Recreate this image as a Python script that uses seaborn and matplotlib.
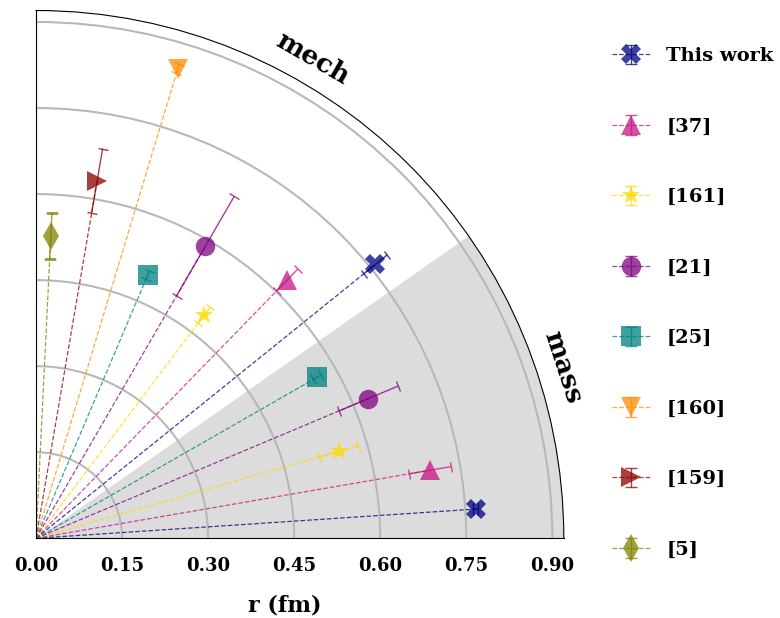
import numpy as np
import seaborn as sns
import matplotlib.pyplot as plt
from matplotlib.ticker import FormatStrFormatter

# sources, in legend order
labels = ['This work', '[37]', '[161]', '[21]', '[25]', '[160]', '[159]', '[5]']
markers = ['X', '^', '*', 'o', 's', 'v', '>', 'd']
colors = ['navy', 'mediumvioletred', 'gold', 'purple', 'teal',
          'darkorange', 'darkred', 'olive']

# mass radii (only first five sources) -- angle in degrees, r and error in fm
mass_ang = [3.8, 9.8, 16.0, 22.8, 29.8]
mass_r = [0.768, 0.697, 0.549, 0.628, 0.565]
mass_err = [0.005, 0.037, 0.035, 0.056, 0.008]

# mechanical radii
mech_ang = [38.9, 45.8, 53.0, 59.9, 67.0, 73.2, 80.3, 87.2]
mech_r = [0.760, 0.628, 0.487, 0.589, 0.499, 0.855, 0.632, 0.528]
mech_err = [0.026, 0.026, 0.018, 0.100, 0.008, 0.008, 0.057, 0.040]

rticks = [0.0, 0.15, 0.30, 0.45, 0.60, 0.75, 0.90]
rmax = 0.92
mass_edge = 35  # degrees, end of shaded "mass" sector

sns.set_style('white')
plt.rcParams['font.family'] = ['DejaVu Serif']
plt.rcParams['font.weight'] = 'bold'
plt.rcParams['text.color'] = 'black'
plt.rcParams['ytick.color'] = 'black'
plt.rcParams['xtick.color'] = 'black'

fig = plt.figure(figsize=(7.8, 6.18), dpi=100)
ax = fig.add_axes([0.046, 0.129, 0.677, 0.854], projection='polar')
ax.set_thetamin(0)
ax.set_thetamax(90)

# shaded mass sector
th = np.radians(np.linspace(0, mass_edge, 100))
ax.fill_between(th, 0, rmax, color='gainsboro', zorder=0, lw=0)

kw = dict(ms=14, capsize=4, capthick=1, elinewidth=1, lw=0.9,
          alpha=0.75, ls='--')

def draw(ang, r, err, i, label=None):
    t = np.radians(ang)
    ax.plot([t, t], [0, r], ls='--', lw=0.9, color=colors[i], alpha=0.75)
    eb = ax.errorbar(t, r, yerr=err, marker=markers[i], color=colors[i],
                     label=label, **kw)
    eb[0].set_markeredgewidth(0)
    return eb

for i in range(len(mass_ang)):
    draw(mass_ang[i], mass_r[i], mass_err[i], i)
for i in range(len(mech_ang)):
    draw(mech_ang[i], mech_r[i], mech_err[i], i, labels[i])

ax.set_rlim(0, rmax)
ax.set_rticks(rticks)
ax.yaxis.set_major_formatter(FormatStrFormatter('%.2f'))
ax.set_xticks([])
ax.grid(True, axis='y', color='0.72', lw=1.5)
ax.tick_params(axis='y', labelsize=13, pad=10, colors='black')
for lab in ax.get_yticklabels():
    lab.set_fontweight('bold')
for sp in ax.spines.values():
    sp.set_color('black')

ax.text(np.radians(60), 0.965, 'mech', fontsize=19, fontweight='bold',
        rotation=-30, ha='center', va='center')
ax.text(np.radians(18), 0.965, 'mass', fontsize=19, fontweight='bold',
        rotation=-72, ha='center', va='center')

fig.text(0.365, 0.01, 'r (fm)', fontsize=16, fontweight='bold', ha='center')

fig.legend(loc='upper left', bbox_to_anchor=(0.762, 0.952), frameon=False,
           prop={'size': 14, 'weight': 'bold'}, labelspacing=2.7,
           handlelength=2.0)

plt.savefig('out.png', dpi=100)
